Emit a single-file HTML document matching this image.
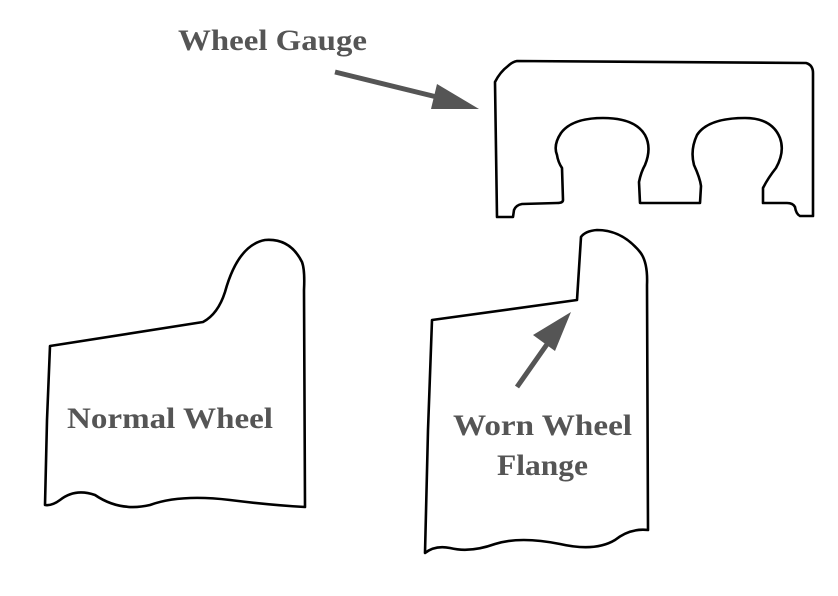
<!DOCTYPE html>
<html><head><meta charset="utf-8"><style>
html,body{margin:0;padding:0;background:#fff;}
svg{display:block}
text{font-family:"Liberation Serif",serif;font-weight:bold;fill:#555;font-size:30px}
</style></head><body>
<svg width="838" height="596" viewBox="0 0 838 596" xmlns="http://www.w3.org/2000/svg">
<g fill="none" stroke="#000" stroke-width="2.6" stroke-linejoin="round">
<path d="M517,61 L806,63 Q813,65 813,73 L813,216 L800,216 Q796,214 795,207 Q793,203 787,203 L763,203 L763,188 Q768,178 776,168 Q785,152 780,138 Q772,118 745,118 Q708,118 697,135 Q690,150 694,165 Q700,178 701,186 L700,203 L640,203 L639,182 Q641,172 645,165 Q652,148 645,135 Q635,118 603,118 Q572,118 561,133 Q553,145 557,155 Q558,162 562,168 L563,200 Q563,203 557,203 L522,204 Q516,205 514,210 L513,217 L497,217 L495,82 Q500,72 508,66 Q512,62 517,61 Z"/>
<path d="M50,346 L203,322 Q218,314 225,292 Q238,245 265,240 Q290,238 302,262 Q305,270 304,290 L305,507 Q270,505 230,500 Q180,494 150,505 Q120,512 95,495 Q75,488 60,500 Q52,506 45,505 L47,420 Z"/>
<path d="M432,320 L577,300 L581,237 Q585,231 597,230 Q622,230 640,252 Q648,262 647,285 L648,530 Q630,528 615,540 Q595,552 560,544 Q520,536 495,544 Q470,553 450,548 Q435,545 425,553 L428,430 Z"/>
</g>
<g stroke="#555" stroke-width="5" fill="#555">
<line x1="335" y1="72" x2="445" y2="99"/>
<polygon points="479,109 437,84 431,109" stroke="none"/>
<line x1="517" y1="387" x2="550" y2="340"/>
<polygon points="571,312 533,335 555,351" stroke="none"/>
</g>
<text x="178" y="50" textLength="189" lengthAdjust="spacingAndGlyphs">Wheel Gauge</text>
<text x="67" y="428" textLength="206" lengthAdjust="spacingAndGlyphs">Normal Wheel</text>
<text x="453" y="435" textLength="179" lengthAdjust="spacingAndGlyphs">Worn Wheel</text>
<text x="497" y="475" textLength="91" lengthAdjust="spacingAndGlyphs">Flange</text>
</svg>
</body></html>
